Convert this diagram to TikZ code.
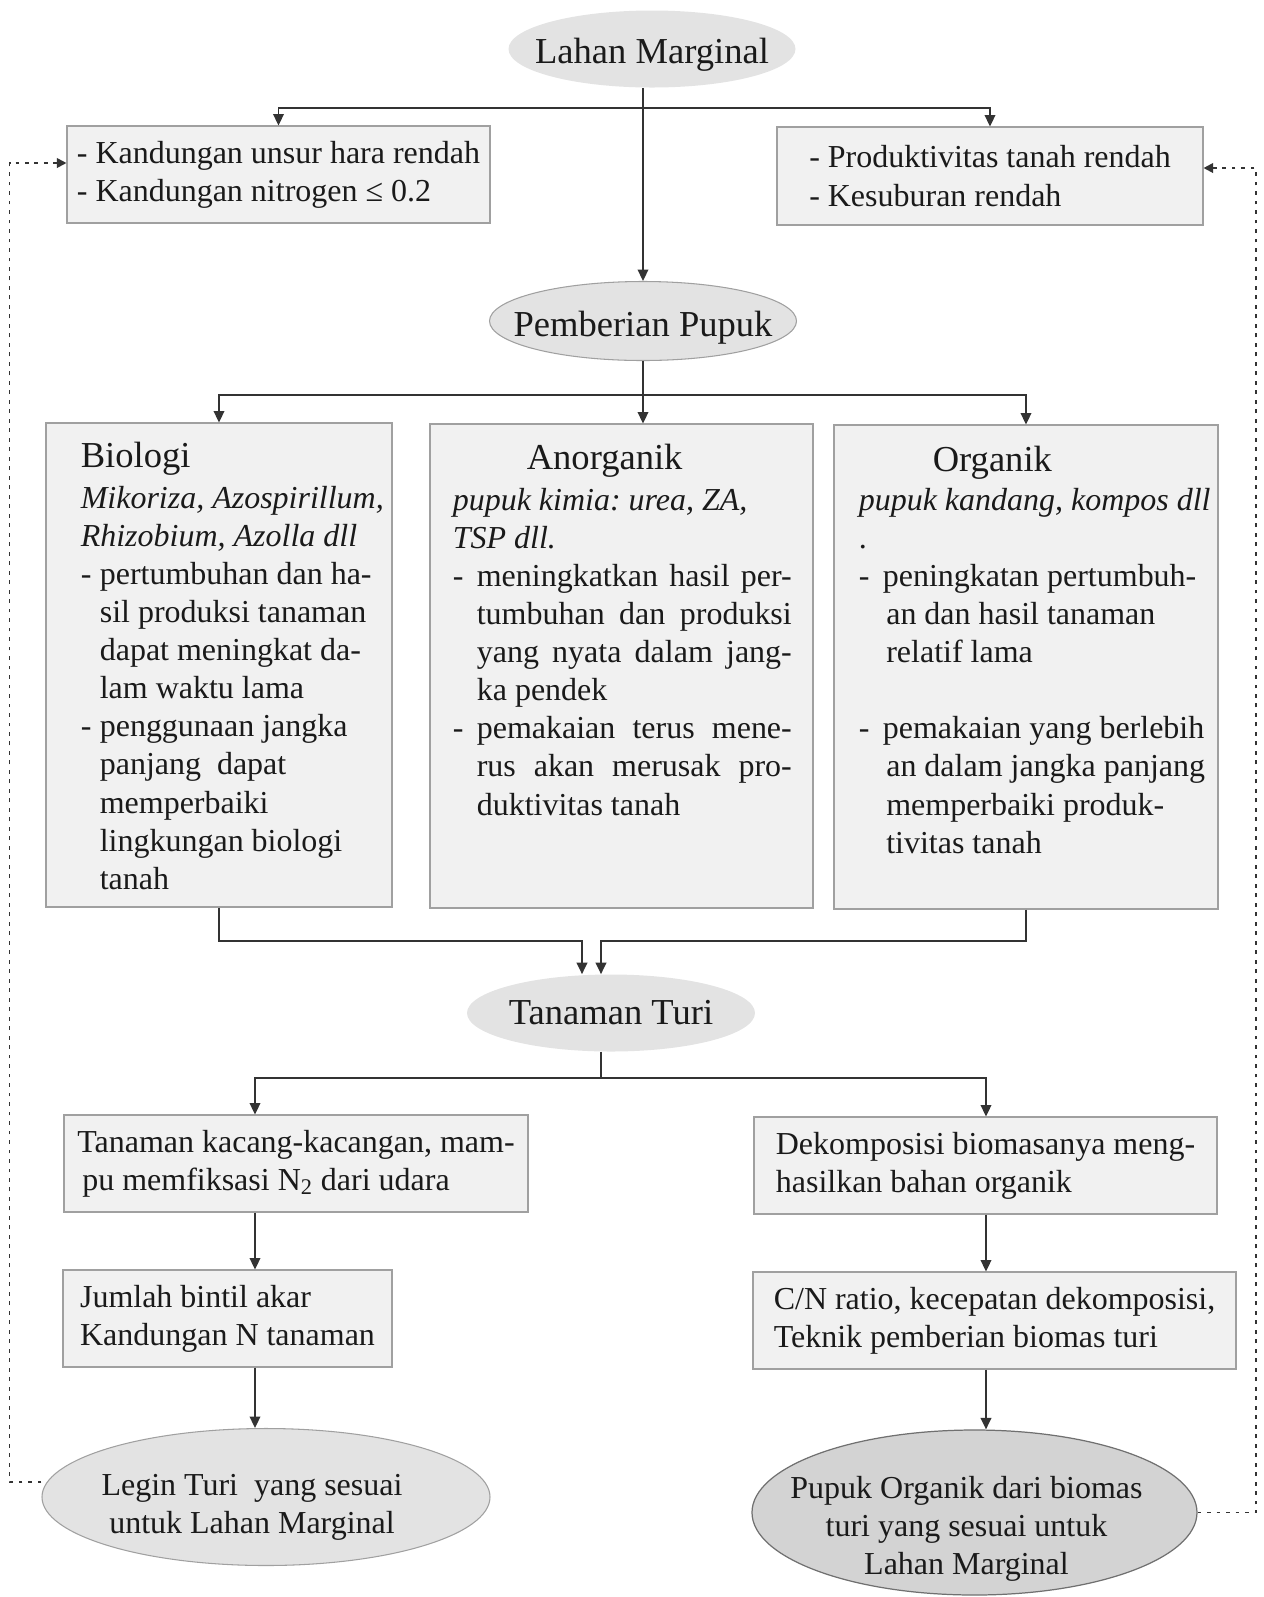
\documentclass[tikz,border=0pt]{standalone}
\usepackage{fontspec}
\setmainfont{Liberation Serif}
\usetikzlibrary{arrows.meta,positioning,shapes.geometric}
\definecolor{ln}{HTML}{333333}
\definecolor{txt}{HTML}{1A1A1A}
\definecolor{boxfill}{HTML}{F1F1F1}
\definecolor{boxline}{HTML}{A0A0A0}
\definecolor{ovfill}{HTML}{E3E3E3}
\definecolor{ovdark}{HTML}{D3D3D3}
\newcommand{\bodysize}{\fontsize{18.2}{21.7}\selectfont}
\newcommand{\headsize}{\fontsize{20.8}{25}\selectfont}

\begin{document}
\frenchspacing
\begin{tikzpicture}[
  >={Triangle[length=6.5pt,width=6pt]},
  box/.style={draw=boxline, fill=boxfill, line width=0.6pt, minimum width=#1, minimum height=1.94cm, align=left, font=\bodysize, text=txt},
  col/.style={draw=boxline, fill=boxfill, line width=0.6pt, minimum width=#1, minimum height=9.68cm},
  oval/.style={ellipse, fill=ovfill, inner sep=0pt},
  head/.style={font=\headsize, text=txt, anchor=north west, inner sep=0pt},
  body/.style={font=\bodysize, text=txt, anchor=north west, align=left, inner sep=0pt},
  lbl/.style={font=\headsize, text=txt},
  arr/.style={->, line width=1.1pt, color=ln},
  fb/.style={-{Triangle[length=5.5pt,width=5.5pt]}, line width=1.1pt, color=ln, dash pattern=on 2.2pt off 3.2pt},
]
\useasboundingbox (0,0) rectangle (25.28,-31.94);

% top part
\node[oval, minimum width=5.74cm, minimum height=1.54cm] (LM) at (13.04,-0.98) {};
\node[lbl] at ([yshift=-0.12cm]LM.center) {Lahan Marginal};

\node[box=8.46cm] (KL) at (5.57,-3.49) {- Kandungan unsur hara rendah\\- Kandungan nitrogen ≤ 0.2};
\node[box=8.52cm, minimum height=1.96cm] (KR) at (19.8,-3.52) {- Produktivitas tanah rendah\\- Kesuburan rendah};

\node[oval, draw=boxline, line width=0.6pt, minimum width=6.14cm, minimum height=1.58cm] (PP) at (12.86,-6.42) {};
\node[lbl] at ([yshift=-0.14cm]PP.center) {Pemberian Pupuk};

\coordinate (J1) at (12.86,-2.16);
\draw[arr] (LM.south -| PP.north) -- (PP.north);
\draw[arr] (J1) -| (KL.north);
\draw[arr] (J1) -| (KR.north);

% three kinds of fertiliser
\node[col=6.92cm] (BIO) at (4.38,-13.3) {};
\node[head] at ([xshift=0.7cm, yshift=-0.38cm]BIO.north west) {Biologi};
\node[body] at ([xshift=0.7cm, yshift=-1.26cm]BIO.north west) {\textit{Mikoriza, Azospirillum,}\\
\textit{Rhizobium, Azolla dll}\\
\makebox[0.38cm][l]{-}pertumbuhan dan ha-\\
\hspace*{0.38cm}sil produksi tanaman\\
\hspace*{0.38cm}dapat meningkat da-\\
\hspace*{0.38cm}lam waktu lama\\
\makebox[0.38cm][l]{-}penggunaan jangka\\
\hspace*{0.38cm}panjang\ \ dapat\\
\hspace*{0.38cm}memperbaiki\\
\hspace*{0.38cm}lingkungan biologi\\
\hspace*{0.38cm}tanah};

\node[col=7.66cm] (ANO) at (12.43,-13.32) {};
\node[head] at ([xshift=1.94cm, yshift=-0.4cm]ANO.north west) {Anorganik};
\node[body] at ([xshift=0.46cm, yshift=-1.28cm]ANO.north west) {\textit{pupuk kimia: urea, ZA,}\\
\textit{TSP dll.}\\
\makebox[0.48cm][l]{-}\makebox[6.3cm][s]{meningkatkan hasil per-}\\
\hspace*{0.48cm}\makebox[6.3cm][s]{tumbuhan dan produksi}\\
\hspace*{0.48cm}\makebox[6.3cm][s]{yang nyata dalam jang-}\\
\hspace*{0.48cm}ka pendek\\
\makebox[0.48cm][l]{-}\makebox[6.3cm][s]{pemakaian terus mene-}\\
\hspace*{0.48cm}\makebox[6.3cm][s]{rus akan merusak pro-}\\
\hspace*{0.48cm}duktivitas tanah};

\node[col=7.68cm] (ORG) at (20.52,-13.34) {};
\node[head] at ([xshift=1.98cm, yshift=-0.42cm]ORG.north west) {Organik};
\node[body] at ([xshift=0.5cm, yshift=-1.26cm]ORG.north west) {\textit{pupuk kandang, kompos dll}\\
.\\
\makebox[0.48cm][l]{-}peningkatan pertumbuh-\\
\hspace*{0.55cm}an dan hasil tanaman\\
\hspace*{0.55cm}relatif lama\\
\mbox{}\\
\makebox[0.48cm][l]{-}pemakaian yang berlebih\\
\hspace*{0.55cm}an dalam jangka panjang\\
\hspace*{0.55cm}memperbaiki produk-\\
\hspace*{0.55cm}tivitas tanah};

\coordinate (J2) at (12.86,-7.9);
\draw[arr] (PP.south) -- (PP.south |- ANO.north);
\draw[arr] (J2) -| (BIO.north);
\draw[arr] (J2) -| (ORG.north);

% turi
\node[oval, minimum width=5.76cm, minimum height=1.54cm] (TT) at (12.22,-20.26) {};
\node[lbl] at (TT.center) {Tanaman Turi};

\coordinate (J3) at (0,-18.82);
\draw[arr] (BIO.south) -- (BIO.south |- J3) -| ([xshift=-0.58cm]TT.north);
\draw[arr] (ORG.south) -- (ORG.south |- J3) -| ([xshift=-0.2cm]TT.north);

% two branches
\node[box=9.28cm] (LB1) at (5.92,-23.27) {Tanaman kacang-kacangan, mam-\\\hspace*{0.1cm}pu memfiksasi N\textsubscript{2} dari udara};
\node[box=6.58cm] (LB2) at (4.55,-26.37) {Jumlah bintil akar\\Kandungan N tanaman};
\node[oval, draw=boxline, line width=0.6pt, minimum width=8.96cm, minimum height=2.74cm] (LE) at (5.32,-29.94) {};
\node[font=\bodysize, text=txt, align=center] at ([xshift=-0.28cm, yshift=-0.2cm]LE.center) {Legin Turi\ \ yang sesuai\\untuk Lahan Marginal};

\node[box=9.26cm] (RB1) at (19.71,-23.31) {Dekomposisi biomasanya meng-\\hasilkan bahan organik};
\node[box=9.66cm] (RB2) at (19.89,-26.41) {C/N ratio, kecepatan dekomposisi,\\Teknik pemberian biomas turi};
\node[oval, fill=ovdark, draw=ln!70, line width=0.7pt, minimum width=8.9cm, minimum height=3.3cm] (RE) at (19.49,-30.25) {};
\node[font=\bodysize, text=txt, align=center] at ([xshift=-0.16cm, yshift=-0.32cm]RE.center) {Pupuk Organik dari biomas\\turi yang sesuai untuk\\Lahan Marginal};

\coordinate (J4L) at (5.1,-21.56);
\coordinate (J4R) at (19.72,-21.56);
\draw[arr] ([xshift=-0.2cm]TT.south) |- (J4L) -- (J4L |- LB1.north);
\draw[arr] ([xshift=-0.2cm]TT.south) |- (J4R) -- (J4R |- RB1.north);
\draw[arr] (J4L |- LB1.south) -- (J4L |- LB2.north);
\draw[arr] (J4L |- LB2.south) -- (J4L |- LE.north);
\draw[arr] (J4R |- RB1.south) -- (J4R |- RB2.north);
\draw[arr] (J4R |- RB2.south) -- (J4R |- RE.north);

% feedback loops
\coordinate (FL) at (0.19,0);
\coordinate (FR) at (25.12,0);
\coordinate (KLin) at ([yshift=0.23cm]KL.west);
\coordinate (KRin) at ([yshift=0.16cm]KR.east);
\draw[fb] ([yshift=0.3cm]LE.west) -| (FL |- KLin) -- (KLin);
\draw[fb] (RE.east) -| (FR |- KRin) -- (KRin);

\end{tikzpicture}
\end{document}
